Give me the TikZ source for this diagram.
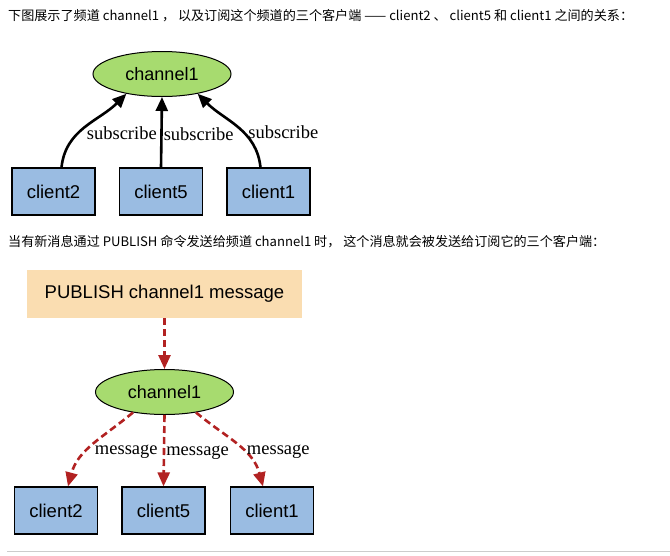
\documentclass[tikz,border=0pt]{standalone}
\usepackage{fontspec}
\setmainfont{Liberation Serif}
\setsansfont{Liberation Sans}
\newfontfamily\cjkfont{Noto Sans CJK SC}
\usetikzlibrary{arrows.meta,shapes.geometric}
\definecolor{chgreen}{HTML}{A7DB6F}
\definecolor{clientblue}{HTML}{9ABCE2}
\definecolor{pubpeach}{HTML}{FADDB1}
\definecolor{msgred}{HTML}{B22222}
\definecolor{rulegray}{HTML}{CCCCCC}

\begin{document}
\begin{tikzpicture}[x=1pt, y=-1pt,
  chan/.style={ellipse, draw, fill=chgreen, line width=1pt, minimum width=138pt, minimum height=45pt, inner sep=0pt, font=\fontsize{18}{20}\sffamily},
  client/.style={draw, fill=clientblue, line width=1.2pt, minimum width=83pt, minimum height=47pt, inner sep=0pt, font=\fontsize{18.5}{20}\sffamily},
  pub/.style={fill=pubpeach, minimum width=275pt, minimum height=48pt, inner sep=0pt, font=\fontsize{18.5}{20}\sffamily},
  subarrow/.style={-{Triangle[length=14pt, width=12pt]}, line width=2.6pt},
  msgarrow/.style={-{Triangle[length=14pt, width=12pt]}, line width=2.6pt, msgred, dash pattern=on 7pt off 4pt},
  lbl/.style={right, inner sep=1pt, text=black, font=\fontsize{18.5}{20}\selectfont},
  caption/.style={anchor=west, inner sep=0pt, font=\cjkfont\fontsize{13.1}{15}\selectfont},
]
\useasboundingbox (0,0) rectangle (670,555);

% Subscribe
\node[caption] (cap1) at (8,16) {下图展示了频道 channel1 ， 以及订阅这个频道的三个客户端 —— client2 、 client5 和 client1 之间的关系：};
\node[chan] (chan) at (162,74) {channel1};
\node[client] (sc2) at (53.5,191.5) {client2};
\node[client] (sc5) at (161,191.5) {client5};
\node[client] (sc1) at (268.5,191.5) {client1};

\draw[subarrow] ([xshift=8pt]sc2.north) to[out=84, in=-135] node[lbl, pos=0.42, xshift=5pt, yshift=-2pt] {subscribe} (chan.-151);
\draw[subarrow] (sc5.north) -- node[lbl, pos=0.47] {subscribe} (chan.south);
\draw[subarrow] ([xshift=-8pt]sc1.north) to[out=96, in=-45] node[lbl, pos=0.42, xshift=3pt, yshift=-1pt] {subscribe} (chan.-29);

% Publish
\node[caption] (cap2) at (8,242) {当有新消息通过 PUBLISH 命令发送给频道 channel1 时， 这个消息就会被发送给订阅它的三个客户端：};
\node[pub] (pub) at (164.5,294) {PUBLISH channel1 message};
\node[chan] (chan2) at (164.5,392) {channel1};
\node[client] (mc2) at (56,510.5) {client2};
\node[client] (mc5) at (163.5,510.5) {client5};
\node[client] (mc1) at (272,510.5) {client1};

\draw[msgarrow] (pub.south) -- (chan2.north);
\draw[msgarrow] (chan2.-147) to[out=-140, in=75] node[lbl, pos=0.6, xshift=6pt] {message} ([xshift=12pt]mc2.north);
\draw[msgarrow] (chan2.south) -- node[lbl, pos=0.53] {message} (mc5.north);
\draw[msgarrow] (chan2.-33) to[out=-40, in=105] node[lbl, pos=0.6, xshift=1pt] {message} ([xshift=-9pt]mc1.north);

\coordinate (ruleL) at (7,551);
\coordinate (ruleR) at (670,551);
\draw[rulegray, line width=1pt] (ruleL) -- (ruleR);
\end{tikzpicture}
\end{document}
